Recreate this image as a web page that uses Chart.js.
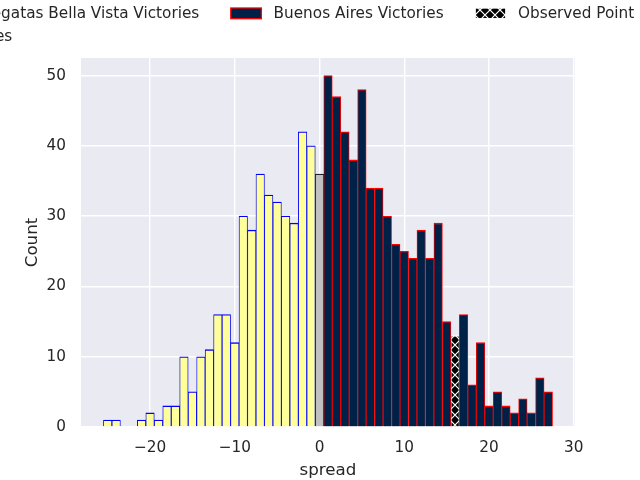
<!DOCTYPE html>
<html>

<head>
    <meta charset="UTF-8">
    <title>Spread Histogram</title>
    <style>
        html, body {
            margin: 0;
            padding: 0;
            background: #ffffff;
        }

        #wrap {
            width: 640px;
            height: 480px;
        }
    </style>
</head>

<body>
    <div id="wrap">
        <canvas id="spreadChart" width="640" height="480"></canvas>
    </div>
    <script src="https://cdn.jsdelivr.net/npm/chart.js"></script>

    <script>
        // histogram counts, one bin per integer spread
        const regatasSpread = [-25, -24, -23, -22, -21, -20, -19, -18, -17, -16, -15, -14, -13, -12, -11, -10, -9, -8, -7, -6, -5, -4, -3, -2, -1];
        const regatasCounts = [1, 1, 0, 0, 1, 2, 1, 3, 3, 10, 5, 10, 11, 16, 16, 12, 30, 28, 36, 33, 32, 30, 29, 42, 40];

        const tieSpread = [0];
        const tieCounts = [36];

        const buenosSpread = [1, 2, 3, 4, 5, 6, 7, 8, 9, 10, 11, 12, 13, 14, 15, 17, 18, 19, 20, 21, 22, 23, 24, 25, 26, 27];
        const buenosCounts = [50, 47, 42, 38, 48, 34, 34, 30, 26, 25, 24, 28, 24, 29, 15, 16, 6, 12, 3, 5, 3, 2, 4, 2, 7, 5];

        const observedSpread = [16];
        const observedCounts = [13];

        const xTicks = [-20, -10, 0, 10, 20, 30];
        const yTicks = [0, 10, 20, 30, 40, 50];

        const textColor = '#262626';
        const canvas = document.getElementById('spreadChart');

        function makeHatch() {
            const c = document.createElement('canvas');
            c.width = 10;
            c.height = 10;
            const g = c.getContext('2d');
            g.fillStyle = '#000000';
            g.fillRect(0, 0, 10, 10);
            g.strokeStyle = '#ffffff';
            g.lineWidth = 1.2;
            g.beginPath();
            g.moveTo(0, 0);
            g.lineTo(10, 10);
            g.moveTo(10, 0);
            g.lineTo(0, 10);
            g.stroke();
            return canvas.getContext('2d').createPattern(c, 'repeat');
        }
        const hatch = makeHatch();

        function points(xs, ys) {
            return xs.map((x, i) => ({ x: x, y: ys[i] }));
        }

        const barBorder = { top: 1.3, left: 0.9, right: 0.9, bottom: 0 };

        const plotBackground = {
            id: 'plotBackground',
            beforeDraw(chart) {
                const { ctx, chartArea: a } = chart;
                ctx.save();
                ctx.fillStyle = '#ffffff';
                ctx.fillRect(0, 0, chart.width, chart.height);
                ctx.fillStyle = '#EAEAF2';
                ctx.fillRect(a.left, a.top, a.right - a.left, a.bottom - a.top);
                ctx.restore();
            }
        };

        // matplotlib style legend, 3 columns, runs off the left edge like the original
        const legendItems = [
            [
                { text: 'Regatas Bella Vista Victories', fill: '#FFFF99', edge: '#0000FF' },
                { text: 'Ties', fill: '#C0C0C0', edge: '#222222' }
            ],
            [
                { text: 'Buenos Aires Victories', fill: '#002147', edge: '#FF0000' }
            ],
            [
                { text: 'Observed Point', fill: hatch, edge: '#FFFFFF' }
            ]
        ];

        const mplLegend = {
            id: 'mplLegend',
            afterDraw(chart) {
                const ctx = chart.ctx;
                const fontSize = 15.28;
                const handleLen = 30.6;
                const textPad = 12.2;
                const colSpacing = 31.5;
                const rowBaselines = [18, 40.7];
                ctx.save();
                ctx.font = fontSize + 'px "DejaVu Sans"';
                ctx.textBaseline = 'alphabetic';
                ctx.textAlign = 'left';
                let colX = -61;
                legendItems.forEach((col) => {
                    let maxW = 0;
                    col.forEach((item, row) => {
                        const base = rowBaselines[row];
                        ctx.fillStyle = item.fill;
                        ctx.fillRect(colX, base - 10, handleLen, 10.7);
                        ctx.strokeStyle = item.edge;
                        ctx.lineWidth = 1.3;
                        ctx.strokeRect(colX, base - 10, handleLen, 10.7);
                        ctx.fillStyle = textColor;
                        ctx.fillText(item.text, colX + handleLen + textPad, base);
                        maxW = Math.max(maxW, ctx.measureText(item.text).width);
                    });
                    colX += handleLen + textPad + maxW + colSpacing;
                });
                ctx.restore();
            }
        };

        const spreadChart = new Chart(canvas, {
            type: 'bar',
            data: {
                datasets: [
                    {
                        label: 'Regatas Bella Vista Victories',
                        data: points(regatasSpread, regatasCounts),
                        backgroundColor: '#FFFF99',
                        borderColor: '#0000FF',
                        borderWidth: barBorder
                    },
                    {
                        label: 'Ties',
                        data: points(tieSpread, tieCounts),
                        backgroundColor: '#C0C0C0',
                        borderColor: '#222222',
                        borderWidth: barBorder
                    },
                    {
                        label: 'Buenos Aires Victories',
                        data: points(buenosSpread, buenosCounts),
                        backgroundColor: '#002147',
                        borderColor: '#FF0000',
                        borderWidth: barBorder
                    },
                    {
                        label: 'Observed Point',
                        data: points(observedSpread, observedCounts),
                        backgroundColor: hatch,
                        borderColor: '#FFFFFF',
                        borderWidth: barBorder
                    }
                ]
            },
            options: {
                responsive: false,
                animation: false,
                devicePixelRatio: 1,
                datasets: {
                    bar: {
                        grouped: false,
                        barPercentage: 1,
                        categoryPercentage: 1,
                        borderSkipped: false
                    }
                },
                layout: {
                    padding: { left: 0, top: 58, right: 65, bottom: 0 }
                },
                scales: {
                    x: {
                        type: 'linear',
                        offset: false,
                        min: -28.15,
                        max: 30.15,
                        afterBuildTicks: (scale) => {
                            scale.ticks = xTicks.map((v) => ({ value: v }));
                        },
                        afterFit: (scale) => {
                            scale.height = 53;
                        },
                        grid: {
                            color: '#ffffff',
                            lineWidth: 1.4,
                            drawTicks: false,
                            offset: false
                        },
                        border: { display: false },
                        ticks: {
                            padding: 12,
                            color: textColor,
                            font: { family: 'DejaVu Sans', size: 15.28 },
                            callback: (v) => String(v).replace('-', '\u2212')
                        },
                        title: {
                            display: true,
                            text: 'spread',
                            color: textColor,
                            font: { family: 'DejaVu Sans', size: 16.67, lineHeight: 1.1 },
                            padding: { top: 0, bottom: 0 }
                        }
                    },
                    y: {
                        min: 0,
                        max: 52.5,
                        afterBuildTicks: (scale) => {
                            scale.ticks = yTicks.map((v) => ({ value: v }));
                        },
                        afterFit: (scale) => {
                            scale.width = 81;
                        },
                        grid: {
                            color: '#ffffff',
                            lineWidth: 1.4,
                            drawTicks: false
                        },
                        border: { display: false },
                        ticks: {
                            padding: 15,
                            color: textColor,
                            font: { family: 'DejaVu Sans', size: 15.28 }
                        },
                        title: {
                            display: true,
                            text: 'Count',
                            color: textColor,
                            font: { family: 'DejaVu Sans', size: 16.67 },
                            padding: { top: 23, bottom: 0 }
                        }
                    }
                },
                plugins: {
                    legend: { display: false },
                    tooltip: { enabled: false }
                }
            },
            plugins: [plotBackground, mplLegend]
        });
    </script>
</body>

</html>
